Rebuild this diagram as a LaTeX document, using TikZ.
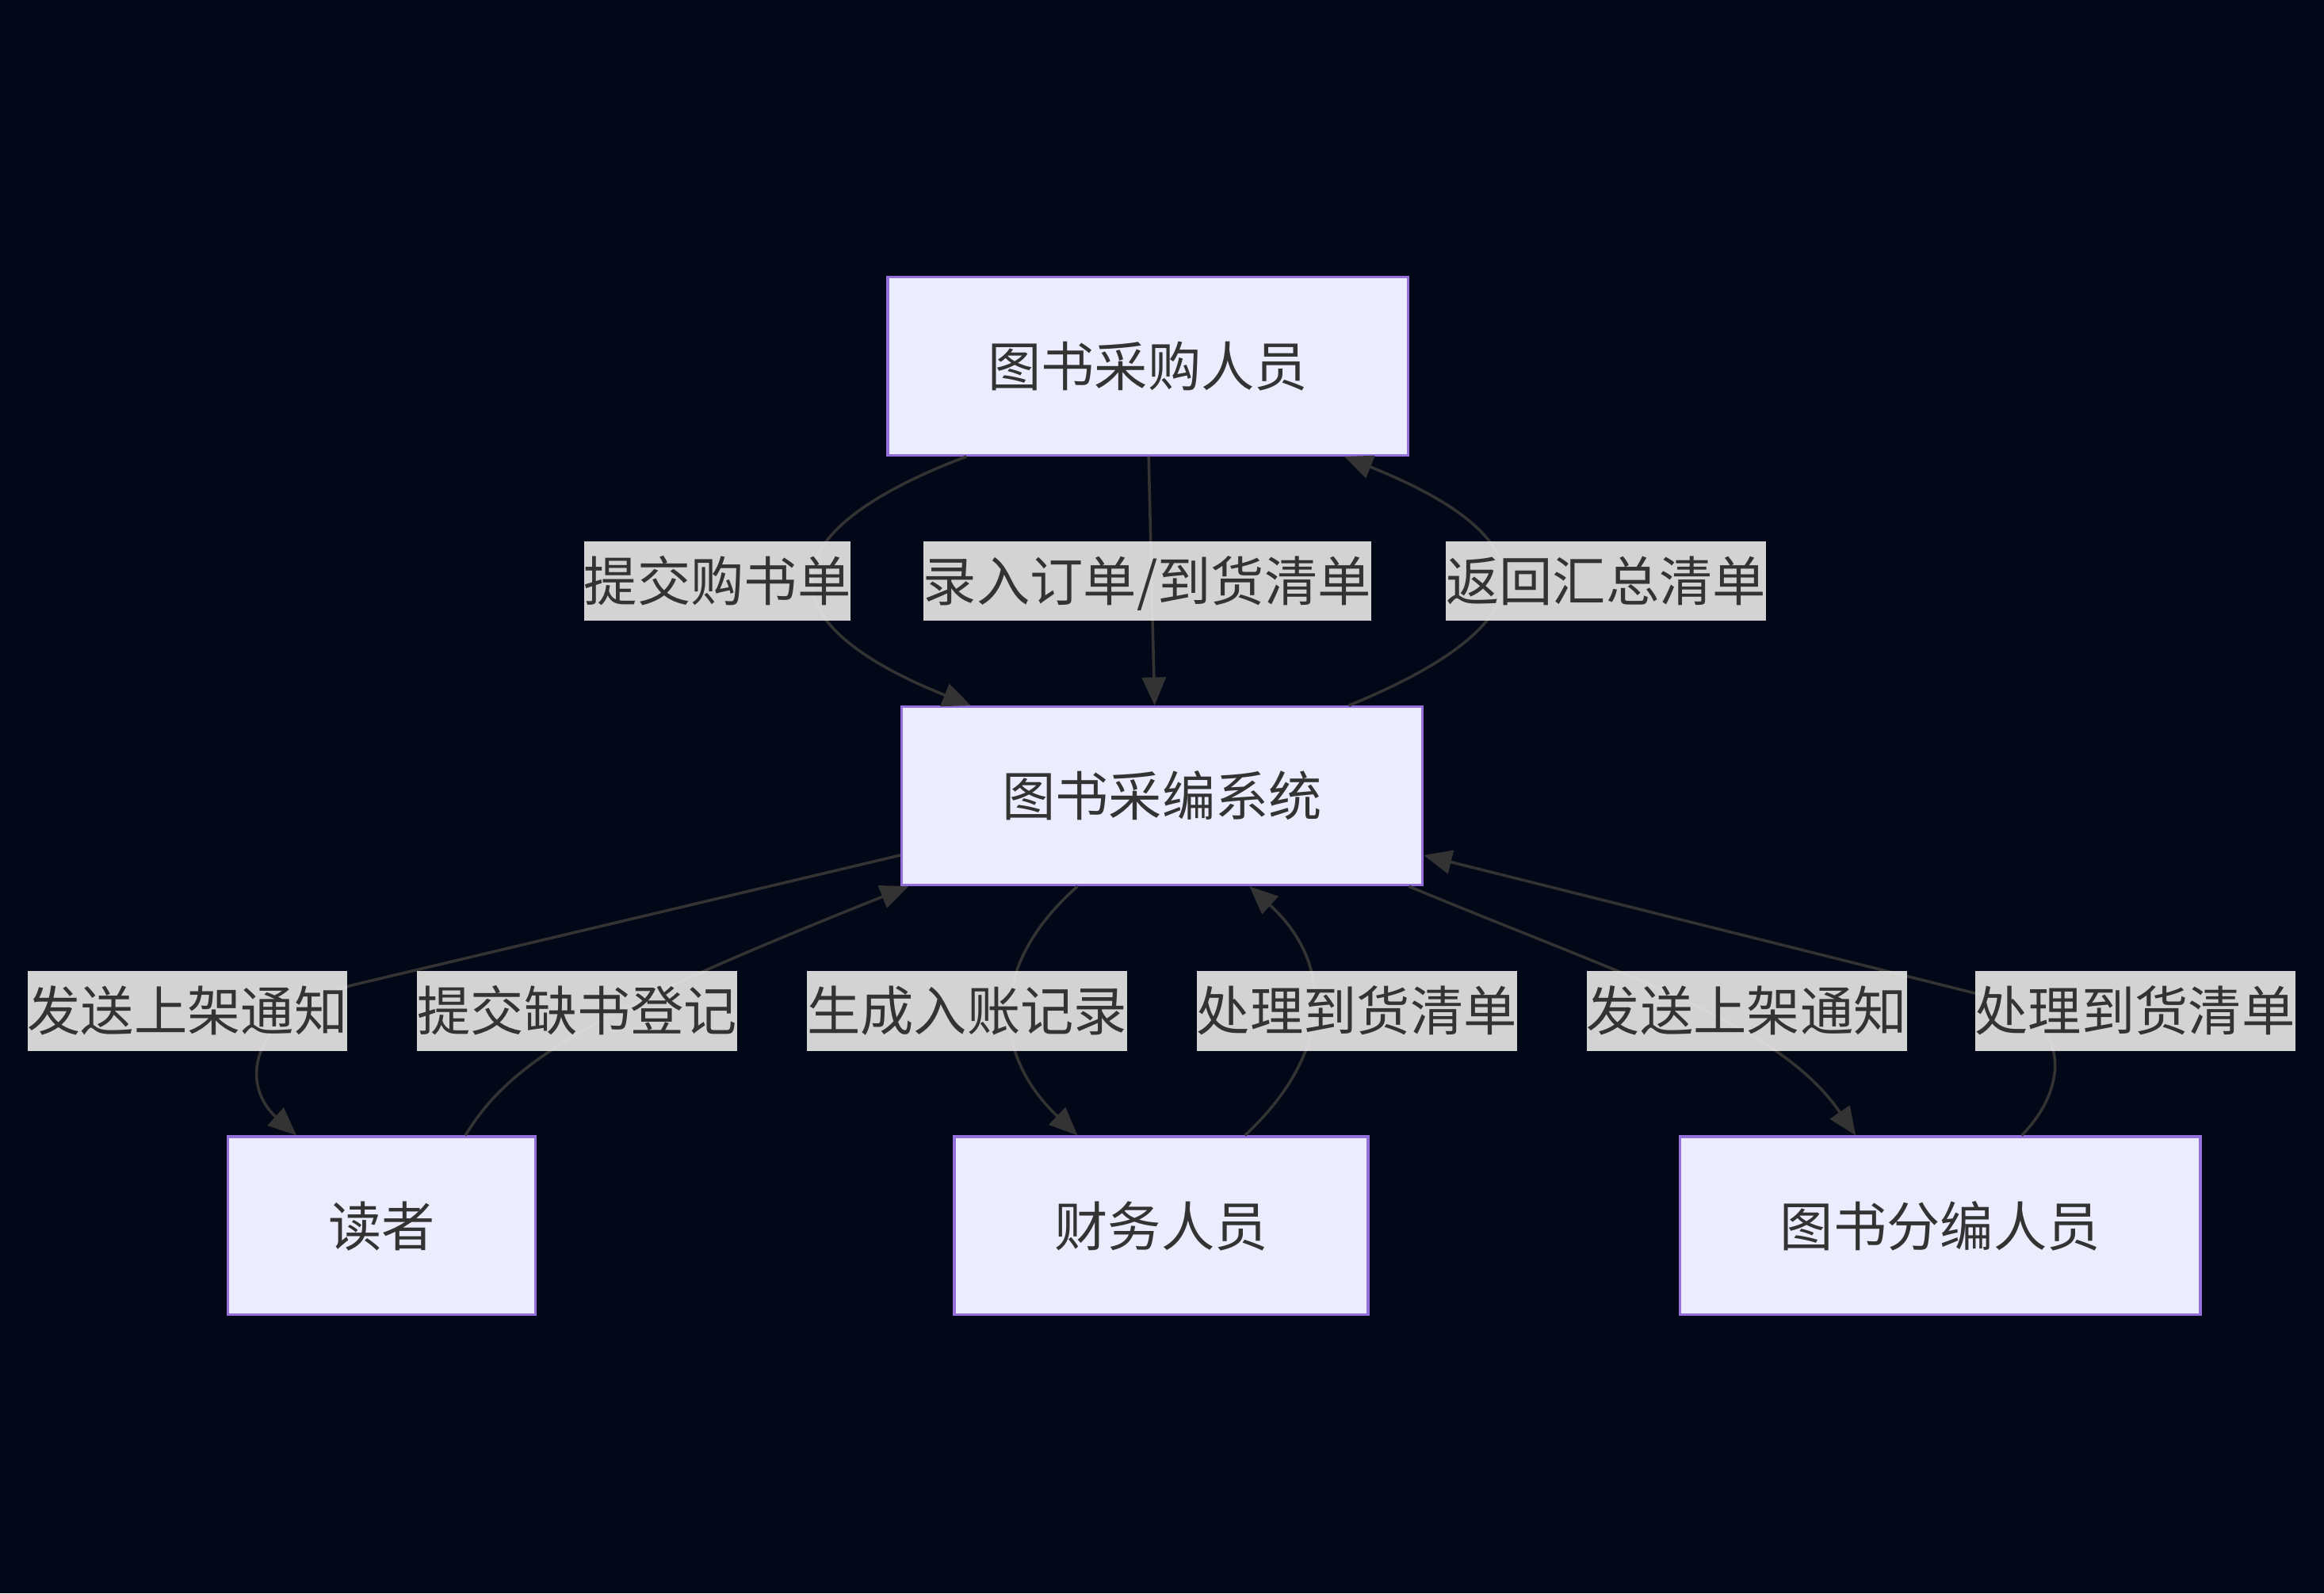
\documentclass[tikz,border=0pt]{standalone}
\usepackage{fontspec}
\newfontfamily\cjk{Noto Sans CJK SC}
\usetikzlibrary{arrows.meta}
\definecolor{bgnavy}{RGB}{2,8,23}
\definecolor{boxfill}{HTML}{ECECFF}
\definecolor{boxline}{HTML}{9370DB}
\definecolor{edgegray}{HTML}{333333}
\definecolor{labelgray}{HTML}{E5E5E5}
\definecolor{textgray}{HTML}{333333}

\begin{document}
\begin{tikzpicture}[x=1pt, y=1pt,
	actor/.style={rectangle, draw=boxline, fill=boxfill, line width=1.8pt, inner xsep=67.6pt, minimum height=120.2pt, text=textgray, font=\cjk\fontsize{36pt}{43pt}\selectfont, text height=31.7pt, text depth=4.3pt},
	flowlabel/.style={rectangle, fill=labelgray, fill opacity=0.92, text opacity=1, inner xsep=0pt, inner ysep=9pt, text=textgray, font=\cjk\fontsize{36pt}{43pt}\selectfont, text height=31.7pt, text depth=4.3pt},
	flow/.style={draw=edgegray, line width=1.9pt, -{Triangle[length=19pt, width=16pt]}}]

\fill[bgnavy] (0, 0) rectangle (1568, -1075);
\useasboundingbox (0, 0) rectangle (1568, -1075);

\node(buyer) [actor] at (774.5, -247) {图书采购人员};
\node(system) [actor] at (784, -537) {图书采编系统};
\node(reader) [actor] at (257.5, -827) {读者};
\node(finance) [actor] at (783.5, -827) {财务人员};
\node(catalog) [actor] at (1309, -827) {图书分编人员};

\draw [flow] ([xshift=-122.5pt]buyer.south) .. controls +(-137, -52) and +(-140, 56) .. ([xshift=-129pt]system.north);
\draw [flow] ([xshift=0.5pt]buyer.south) -- ([xshift=-5pt]system.north);
\draw [flow] ([xshift=126pt]system.north) .. controls +(137, 56) and +(140, -56) .. ([xshift=132.5pt]buyer.south);

\draw [flow] ([yshift=-40pt]system.west) -- ++(-367, -87) .. controls +(-70, -17) and +(-40, 36) .. ([xshift=-57.5pt]reader.north);
\draw [flow] ([xshift=56.5pt]reader.north) .. controls +(31, 51) and +(-213, -85) .. ([xshift=-171pt]system.south);
\draw [flow] ([xshift=-57pt]system.south) .. controls +(-59, -52) and +(-59, 56) .. ([xshift=-56.5pt]finance.north);
\draw [flow] ([xshift=56.5pt]finance.north) .. controls +(60, 56) and +(57, -52) .. ([xshift=59pt]system.south);
\draw [flow] ([xshift=-10pt]system.south east) .. controls +(149, -62) and +(-52, 76) .. ([xshift=-57pt]catalog.north);
\draw [flow] ([xshift=55pt]catalog.north) .. controls +(31, 31) and +(60, -15) .. ++(-24, 94) -- ([yshift=-40pt]system.east);

\node(l1) [flowlabel] at (484, -392) {提交购书单};
\node(l2) [flowlabel] at (774, -392) {录入订单/到货清单};
\node(l3) [flowlabel] at (1083.5, -392) {返回汇总清单};
\node(l4) [flowlabel] at (126.5, -682) {发送上架通知};
\node(l5) [flowlabel] at (389.5, -682) {提交缺书登记};
\node(l6) [flowlabel] at (652.5, -682) {生成入账记录};
\node(l7) [flowlabel] at (915.5, -682) {处理到货清单};
\node(l8) [flowlabel] at (1178.5, -682) {发送上架通知};
\node(l9) [flowlabel] at (1440.5, -682) {处理到货清单};

\end{tikzpicture}
\end{document}
